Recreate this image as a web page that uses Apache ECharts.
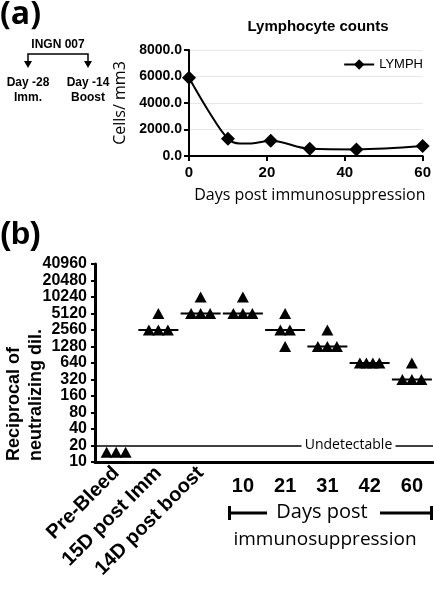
<!DOCTYPE html>
<html><head><meta charset="utf-8">
<script src="https://cdn.jsdelivr.net/npm/echarts@6/dist/echarts.min.js"></script>
<style>html,body{margin:0;padding:0;background:#fff}#c{width:434px;height:590px}</style>
</head><body><div id="c"></div>
<script>
// ---------- (a) Lymphocyte counts ----------
const lymphDays   = [0, 5, 10, 13, 16, 21, 31, 43, 60];
const lymphCounts = [5900, 3400, 1300, 950, 950, 1150, 550, 500, 750];
const sampledDays = [0, 10, 21, 31, 43, 60];   // days carrying a marker
const lymphSeriesName = 'LYMPH';

// ---------- (b) Neutralizing titres ----------
const titreCategories = ['Pre-Bleed', '15D post Imm', '14D post boost', '10', '21', '31', '42', '60'];
const titrePreBleed = [15, 15, 15];
const titre15DImm   = [5120, 2560, 2560, 2560];
const titre14DBoost = [10240, 5120, 5120, 5120];
const titreDay10    = [10240, 5120, 5120, 5120];
const titreDay21    = [5120, 2560, 2560, 1280];
const titreDay31    = [2560, 1280, 1280, 1280];
const titreDay42    = [640, 640, 640, 640];
const titreDay60    = [640, 320, 320, 320];
const titreTickLabels = [10, 20, 40, 80, 160, 320, 640, 1280, 2560, 5120, 10240, 20480, 40960];
const detectionLimit = 20;

const titreGroups = [titrePreBleed, titre15DImm, titre14DBoost, titreDay10, titreDay21, titreDay31, titreDay42, titreDay60];
const logPos = v => Math.log2(v / titreTickLabels[0]);

// scatter points, equal values spread side by side
const pts = [];
titreGroups.forEach((vals, gi) => {
  const clusters = {};
  vals.forEach(v => { (clusters[v] = clusters[v] || []).push(v); });
  Object.keys(clusters).forEach(k => {
    const c = clusters[k], n = c.length, sp = n >= 4 ? 6.5 : 9.5;
    c.forEach((v, i) => pts.push({ value: [gi, logPos(v)], symbolOffset: [(i - (n - 1) / 2) * sp, 0] }));
  });
});
// medians
const medians = [];
titreGroups.forEach((vals, gi) => {
  const s = vals.slice().sort((a, b) => a - b);
  const m = s.length % 2 ? s[(s.length - 1) / 2] : (s[s.length / 2 - 1] + s[s.length / 2]) / 2;
  if (m > detectionLimit) medians.push([gi, logPos(m)]);
});

const lymphData = lymphDays.map((d, i) => sampledDays.includes(d)
  ? [d, lymphCounts[i]]
  : { value: [d, lymphCounts[i]], symbol: 'none' });

const FB = "'Liberation Sans', Arial, sans-serif";
const FO = "'Open Sans', sans-serif";

const chart = echarts.init(document.getElementById('c'), null, { renderer: 'canvas' });
const option = {
  animation: false,
  backgroundColor: '#fff',
  title: {
    text: 'Lymphocyte counts', left: 313, top: 14, textAlign: 'center',
    textStyle: { fontFamily: FB, fontWeight: 'bold', fontSize: 15, color: '#000' }
  },
  legend: {
    data: [lymphSeriesName], right: 6, top: 53, itemWidth: 30, itemHeight: 13, itemGap: 4,
    textStyle: { fontFamily: FB, fontSize: 13, color: '#000' }
  },
  grid: [
    { left: 189, right: 11, top: 50, height: 106 },
    { left: 95, right: 1, top: 264, height: 198 }
  ],
  xAxis: [
    {
      gridIndex: 0, type: 'value', min: 0, max: 60, interval: 20,
      name: 'Days post immunosuppression', nameLocation: 'middle', nameGap: 31,
      nameTextStyle: { fontFamily: FO, fontSize: 16, color: '#000', padding: [0, 0, 0, 8] },
      axisLine: { lineStyle: { color: '#000', width: 2 } },
      axisTick: { length: 5, lineStyle: { color: '#000', width: 2 } },
      axisLabel: { fontFamily: FB, fontWeight: 'bold', fontSize: 15, color: '#000', margin: 9 },
      splitLine: { show: false }
    },
    {
      gridIndex: 1, type: 'category', data: titreCategories,
      axisLine: { lineStyle: { color: '#000', width: 3 } },
      axisTick: { alignWithLabel: true, length: 4, lineStyle: { color: '#000', width: 2 } },
      axisLabel: {
        interval: 0, rotate: 45, margin: 8,
        fontFamily: FB, fontWeight: 'bold', fontSize: 20, color: '#000',
        formatter: (v, i) => i < 3 ? v : ''
      }
    },
    {
      gridIndex: 1, type: 'category', data: titreCategories, position: 'bottom',
      axisLine: { show: false }, axisTick: { show: false },
      axisLabel: {
        interval: 0, margin: 14,
        fontFamily: FB, fontWeight: 'bold', fontSize: 20, color: '#000',
        formatter: (v, i) => i >= 3 ? v : ''
      }
    }
  ],
  yAxis: [
    {
      gridIndex: 0, type: 'value', min: 0, max: 8000, interval: 2000,
      name: 'Cells/ mm3', nameLocation: 'middle', nameGap: 53,
      nameTextStyle: { fontFamily: FO, fontSize: 16, color: '#000' },
      axisLine: { show: true, lineStyle: { color: '#000', width: 2 } },
      axisTick: { show: true, length: 5, lineStyle: { color: '#000', width: 2 } },
      axisLabel: { fontFamily: FB, fontWeight: 'bold', fontSize: 14, color: '#000', margin: 7,
        showMinLabel: true, showMaxLabel: true, formatter: v => v.toFixed(1) },
      splitLine: { show: true, lineStyle: { color: '#e6e6e6', width: 1 } }
    },
    {
      gridIndex: 1, type: 'value', min: 0, max: titreTickLabels.length - 1, interval: 1,
      axisLine: { show: true, lineStyle: { color: '#000', width: 3 } },
      axisTick: { show: true, length: 4, lineStyle: { color: '#000', width: 2 } },
      axisLabel: { fontFamily: FB, fontWeight: 'bold', fontSize: 16, color: '#000', margin: 8,
        showMinLabel: true, showMaxLabel: true, hideOverlap: false, lineHeight: 16,
        formatter: v => String(titreTickLabels[Math.round(v)]) },
      splitLine: { show: false }
    }
  ],
  series: [
    {
      name: lymphSeriesName, type: 'line', xAxisIndex: 0, yAxisIndex: 0,
      data: lymphData, smooth: 0.35,
      symbol: 'diamond', symbolSize: 14,
      lineStyle: { color: '#000', width: 2 },
      itemStyle: { color: '#000' }
    },
    {
      type: 'scatter', xAxisIndex: 1, yAxisIndex: 1, data: pts,
      symbol: 'triangle', symbolSize: [12, 11],
      itemStyle: { color: '#000', opacity: 1 },
      markLine: {
        silent: true, symbol: 'none',
        lineStyle: { color: '#000', width: 1.5, type: 'solid' },
        label: { show: false },
        data: [{ yAxis: logPos(detectionLimit) }]
      }
    },
    {
      type: 'custom', xAxisIndex: 1, yAxisIndex: 1, data: medians, z: 3,
      renderItem: (params, api) => {
        const p = api.coord([api.value(0), api.value(1)]);
        return { type: 'line', shape: { x1: p[0] - 20, y1: p[1], x2: p[0] + 20, y2: p[1] },
          style: { stroke: '#000', lineWidth: 2 } };
      }
    }
  ]
};
chart.setOption(option);

// label for the detection limit line
const pA = chart.convertToPixel({ xAxisIndex: 1, yAxisIndex: 1 }, [5, logPos(detectionLimit)]);
const pB = chart.convertToPixel({ xAxisIndex: 1, yAxisIndex: 1 }, [6, logPos(detectionLimit)]);
const undetX = (pA[0] + pB[0]) / 2, undetY = pA[1];

const txt = (x, y, text, font, extra) => ({
  type: 'text', x, y, z: 100,
  style: Object.assign({ text, font, fill: '#000', textAlign: 'center', textVerticalAlign: 'middle' }, extra || {})
});
const seg = (x1, y1, x2, y2, w) => ({ type: 'line', z: 100, shape: { x1, y1, x2, y2 }, style: { stroke: '#000', lineWidth: w } });

chart.setOption({
  graphic: [
    txt(0, 15, '(a)', 'bold 32px ' + FO, { textAlign: 'left' }),
    txt(58, 45, 'INGN 007', 'bold 12px ' + FB),
    { type: 'polyline', shape: { points: [[28, 63], [28, 54], [88, 54], [88, 63]] }, style: { stroke: '#000', lineWidth: 1.5, fill: null } },
    { type: 'polygon', shape: { points: [[24, 61], [32, 61], [28, 68]] }, style: { fill: '#000' } },
    { type: 'polygon', shape: { points: [[84, 61], [92, 61], [88, 68]] }, style: { fill: '#000' } },
    txt(28, 83, 'Day -28', 'bold 12px ' + FB),
    txt(28, 98, 'Imm.', 'bold 12px ' + FB),
    txt(88, 83, 'Day -14', 'bold 12px ' + FB),
    txt(88, 98, 'Boost', 'bold 12px ' + FB),
    txt(0, 235, '(b)', 'bold 32px ' + FB, { textAlign: 'left' }),
    { type: 'text', x: 3, y: 461, z: 100, rotation: Math.PI / 2,
      style: { text: 'Reciprocal of\nneutralizing dil.', font: 'bold 18px ' + FB, fill: '#000',
        textAlign: 'left', textVerticalAlign: 'top', lineHeight: 22 } },
    { type: 'rect', z: 99, shape: { x: undetX - 47, y: undetY - 7, width: 94, height: 14 }, style: { fill: '#fff' } },
    txt(undetX, undetY, 'Undetectable', '14px ' + FO),
    seg(229, 513, 267, 513, 3), seg(229.5, 506, 229.5, 520, 3),
    seg(380, 513, 432, 513, 3), seg(431.5, 506, 431.5, 520, 3),
    txt(322, 512, 'Days post', '20px ' + FO),
    txt(325, 540, 'immunosuppression', '19px ' + FO)
  ]
});
</script>
</body></html>
